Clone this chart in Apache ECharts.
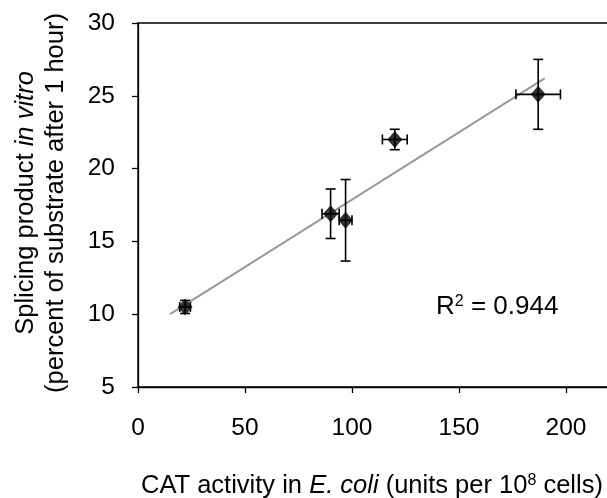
<!DOCTYPE html>
<html>
<head>
<meta charset="utf-8">
<script src="https://cdn.jsdelivr.net/npm/echarts@6/dist/echarts.min.js"></script>
<style>html,body{margin:0;padding:0;background:#fff}#c{width:607px;height:498px}</style>
</head>
<body>
<div id="c"></div>
<script>
// Data
const xVals = [22, 90, 97, 120, 187];
const yVals = [10.5, 16.9, 16.45, 22.0, 25.1];
const xErr = [2.5, 4, 3, 5.8, 10.4];
const yErr = [0.45, 1.7, 2.8, 0.7, 2.4];
const trendX = [15, 190];
const trendY = [10.0, 26.2];
const rSquaredLabel = '0.944';
const xRange = [0, 250, 50];
const yRange = [5, 30, 5];

const FONT = '"Liberation Sans", Arial, Helvetica, sans-serif';
const chart = echarts.init(document.getElementById('c'));

const points = xVals.map((x, i) => [x, yVals[i]]);
const errData = xVals.map((x, i) => [x, yVals[i], xErr[i], yErr[i]]);
const trend = trendX.map((x, i) => [x, trendY[i]]);

chart.setOption({
  animation: false,
  backgroundColor: '#fff',
  grid: { left: 138, top: 23, bottom: 111, right: -66, outerBoundsMode: 'none',
          show: true, borderColor: '#000', borderWidth: 1.3 },
  xAxis: {
    type: 'value', min: xRange[0], max: xRange[1], interval: xRange[2],
    axisLine: { show: true, lineStyle: { color: '#000', width: 1.3 } },
    axisTick: { show: true, inside: false, length: 6, lineStyle: { color: '#000', width: 1.3 } },
    axisLabel: { margin: 29, color: '#000', fontSize: 24.5, fontFamily: FONT },
    splitLine: { show: false }
  },
  yAxis: {
    type: 'value', min: yRange[0], max: yRange[1], interval: yRange[2],
    axisLine: { show: true, lineStyle: { color: '#000', width: 1.3 } },
    axisTick: { show: true, inside: false, length: 6, lineStyle: { color: '#000', width: 1.3 } },
    axisLabel: { margin: 23, color: '#000', fontSize: 24.5, fontFamily: FONT },
    splitLine: { show: false }
  },
  series: [
    {
      type: 'line', data: trend, showSymbol: false, symbol: 'none', z: 1,
      lineStyle: { color: '#999', width: 2 }
    },
    {
      type: 'custom', data: errData, z: 2,
      renderItem: function (params, api) {
        const x = api.value(0), y = api.value(1), ex = api.value(2), ey = api.value(3);
        const t = api.coord([x, y + ey]), b = api.coord([x, y - ey]);
        const l = api.coord([x - ex, y]), r = api.coord([x + ex, y]);
        const cap = 5;
        const st = { stroke: '#000', lineWidth: 1.6 };
        const L = (x1, y1, x2, y2) => ({ type: 'line', shape: { x1, y1, x2, y2 }, style: st });
        return { type: 'group', children: [
          L(t[0], t[1], b[0], b[1]),
          L(t[0] - cap, t[1], t[0] + cap, t[1]),
          L(b[0] - cap, b[1], b[0] + cap, b[1]),
          L(l[0], l[1], r[0], r[1]),
          L(l[0], l[1] - cap, l[0], l[1] + cap),
          L(r[0], r[1] - cap, r[0], r[1] + cap)
        ]};
      }
    },
    {
      type: 'scatter', data: points, symbol: 'diamond', symbolSize: [15, 17], z: 3,
      itemStyle: { color: '#000' }
    }
  ],
  graphic: [
    {
      type: 'text', left: 436, top: 294, z: 10,
      style: {
        text: '{a|R}{s|2}{a| = ' + rSquaredLabel + '}',
        rich: {
          a: { fontSize: 26, fontFamily: FONT, fill: '#000' },
          s: { fontSize: 16, fontFamily: FONT, fill: '#000', verticalAlign: 'top' }
        }
      }
    },
    {
      type: 'text', left: 141, top: 473, z: 10,
      style: {
        text: '{a|CAT activity in }{i|E. coli}{a| (units per 10}{s|8}{a| cells)}',
        rich: {
          a: { fontSize: 25.5, fontFamily: FONT, fill: '#000' },
          i: { fontSize: 25.5, fontFamily: FONT, fontStyle: 'italic', fill: '#000' },
          s: { fontSize: 16, fontFamily: FONT, fill: '#000', verticalAlign: 'top' }
        }
      }
    },
    {
      type: 'text', x: 41, y: 203, rotation: Math.PI / 2, z: 10,
      style: {
        text: '{a|Splicing product }{i|in vitro}\n{a|(percent of substrate after 1 hour)}',
        align: 'center', verticalAlign: 'middle',
        rich: {
          a: { fontSize: 25.5, fontFamily: FONT, fill: '#000', lineHeight: 30 },
          i: { fontSize: 25.5, fontFamily: FONT, fontStyle: 'italic', fill: '#000', lineHeight: 30 }
        }
      }
    }
  ]
});
</script>
</body>
</html>
